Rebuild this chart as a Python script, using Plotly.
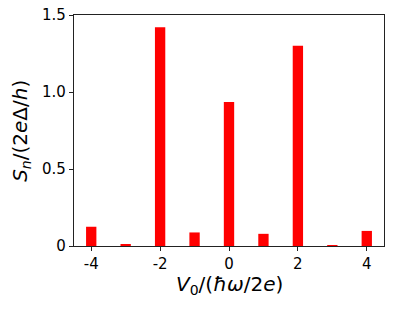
import plotly.graph_objects as go

harmonics = [-4, -3, -2, -1, 0, 1, 2, 3, 4]
values = [0.125, 0.013, 1.42, 0.088, 0.935, 0.079, 1.30, 0.006, 0.098]
xticks = [-4, -2, 0, 2, 4]
yticks = [0, 0.5, 1.0, 1.5]
ytext = ["0", "0.5", "1.0", "1.5"]
xtitle = "<i>V</i><sub>0</sub>/(<i>ħω</i>/2<i>e</i>)"
ytitle = "<i>S<sub>n</sub></i>/(2<i>e</i>Δ/<i>h</i>)"

fig = go.Figure(go.Bar(x=harmonics, y=values, width=0.3,
                       marker=dict(color="#ff0000", line=dict(width=0))))

axcol = "#222222"
common = dict(showgrid=False, zeroline=False, showline=True, linecolor=axcol, linewidth=1.3,
              mirror=True, ticks="outside", ticklen=4, tickwidth=1, tickcolor=axcol,
              automargin=False, tickfont=dict(size=15))
fig.update_layout(
    width=399, height=310,
    margin=dict(l=73.5, r=15, t=15, b=63.5),
    paper_bgcolor="white", plot_bgcolor="white",
    font=dict(family="DejaVu Sans", size=15, color="black"),
    showlegend=False,
    xaxis=dict(range=[-4.5, 4.5], tickvals=xticks, ticktext=[str(v) for v in xticks], **common),
    yaxis=dict(range=[0, 1.5], tickvals=yticks, ticktext=ytext, **common),
    annotations=[
        dict(text=xtitle, xref="paper", yref="paper", x=0.5, y=-0.17, xanchor="center",
             yanchor="middle", showarrow=False, font=dict(size=20)),
        dict(text=ytitle, xref="paper", yref="paper", x=-0.173, y=0.5, xanchor="center",
             yanchor="middle", showarrow=False, textangle=-90, font=dict(size=20)),
    ],
)

fig.write_html("out.html", config={"displayModeBar": False},
               post_script="document.body.style.margin='0';document.body.style.overflow='hidden';")
